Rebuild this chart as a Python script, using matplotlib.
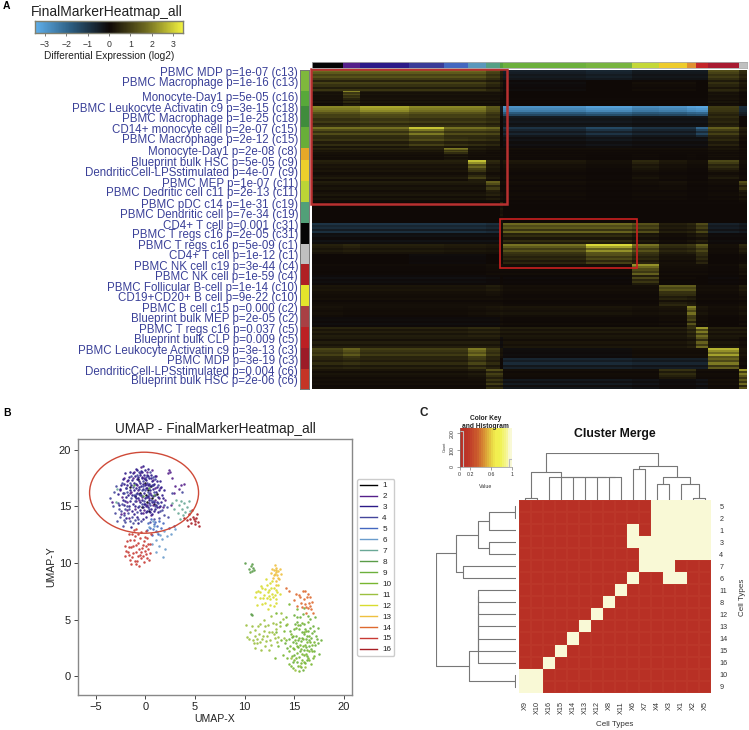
import numpy as np
import matplotlib
matplotlib.use("Agg")
import matplotlib.pyplot as plt
from matplotlib.colors import LinearSegmentedColormap, ListedColormap
from matplotlib.lines import Line2D
from matplotlib.patches import Ellipse, Rectangle

plt.rcParams['font.family'] = ['Liberation Sans', 'DejaVu Sans']
W, H = 749, 730
fig = plt.figure(figsize=(W/100, H/100), dpi=100)

def axpx(x0, y0, x1, y1, **kw):
    return fig.add_axes([x0/W, 1-y1/H, (x1-x0)/W, (y1-y0)/H], **kw)

def ftext(x, y, s, **kw):
    fig.text(x/W, 1-y/H, s, **kw)

# ---------------- Panel A data ----------------
row_labels = ["PBMC MDP p=1e-07 (c13)", "PBMC Macrophage p=1e-16 (c13)", "Monocyte-Day1 p=5e-05 (c16)",
 "PBMC Leukocyte Activatin c9 p=3e-15 (c18)", "PBMC Macrophage p=1e-25 (c18)", "CD14+ monocyte cell p=2e-07 (c15)",
 "PBMC Macrophage p=2e-12 (c15)", "Monocyte-Day1 p=2e-08 (c8)", "Blueprint bulk HSC p=5e-05 (c9)",
 "DendriticCell-LPSstimulated p=4e-07 (c9)", "PBMC MEP p=1e-07 (c11)", "PBMC Dedritic cell c11 p=2e-13 (c11)",
 "PBMC pDC c14 p=1e-31 (c19)", "PBMC Dendritic cell p=7e-34 (c19)", "CD4+ T cell p=0.001 (c31)",
 "PBMC T regs c16 p=2e-05 (c31)", "PBMC T regs c16 p=5e-09 (c1)", "CD4+ T cell p=1e-12 (c1)",
 "PBMC NK cell c19 p=3e-44 (c4)", "PBMC NK cell p=1e-59 (c4)", "PBMC Follicular B-cell p=1e-14 (c10)",
 "CD19+CD20+ B cell p=9e-22 (c10)", "PBMC B cell c15 p=0.000 (c2)", "Blueprint bulk MEP p=2e-05 (c2)",
 "PBMC T regs c16 p=0.037 (c5)", "Blueprint bulk CLP p=0.009 (c5)", "PBMC Leukocyte Activatin c9 p=3e-13 (c3)",
 "PBMC MDP p=3e-19 (c3)", "DendriticCell-LPSstimulated p=0.004 (c6)", "Blueprint bulk HSC p=2e-06 (c6)"]
label_y = [73,83,98,109,119,130,140,152,163,173,184,193,205,215,226,235,246,256,267,277,288,298,309,319,330,340,351,361,372,381]

col_widths = [95,50,148,105,72,52,44,9,248,139,81,82,28,36,93,23]
col_colors = ['#050505','#55208a','#2c1a88','#3a3c98','#4468c0','#5a98bc','#55a085','#55a040','#6cb03c',
              '#78b440','#c4d838','#eecc2c','#e09030','#c42428','#a81a30','#c0c0c0']
half_band_heights = [31,31,22,23,32,32,31,31,18,19,31,32,32,31,31,31,32,31,31,31,31,31,32,31,32,31,31,31,32,31,31,31]
band_heights = [62,45,64,62,37,63,63,62,63,62,62,63,63,62,63,62]
band_colors = ['#7fb83c','#58a83a','#408c3c','#68ae38','#e6a828','#ecd02c','#bcd436','#52a078','#050505',
               '#c0c0c0','#b02024','#e4e42c','#a84044','#bc2024','#9c1c28','#c43426']

block = np.array([
 [1.3,1.3,1.3,1.3,1.3,1.3,.9,.4,-.4,-.5,-.3,-.3,-.3,-.3,.9,.5],
 [.9,.9,.9,.9,.9,.9,.6,.3,-.1,0,.1,.1,.1,0,.6,.3],
 [.3,1.7,.3,.3,.3,.3,.3,.2,0,0,0,0,0,0,.3,.1],
 [.25,.8,.3,.3,.3,.3,.3,.1,.05,.05,.05,.05,.05,.05,.3,.1],
 [1.6,1.6,1.9,1.6,1.6,1.6,1.1,-.3,-2.2,-2.4,-2.1,-2.2,-2.4,-2.5,.7,-.6],
 [1.0,1.0,1.1,1.0,1.0,1.0,.8,0,-.4,-.4,-.3,-.3,-.3,-.3,.6,0],
 [1.2,1.2,1.2,1.9,1.2,1.2,1.1,0,-.6,-.9,-.6,-.6,-.6,-1.3,1.0,.3],
 [.7,.7,.7,1.1,.8,.7,.6,0,-.2,-.3,-.2,-.2,-.2,-.2,.5,.1],
 [.4,.4,.4,.4,1.6,.3,.2,.1,.1,.1,.1,.1,.1,.1,.2,.1],
 [.2,.2,.2,.2,.4,.2,.2,.1,.1,.05,.1,.05,.1,.05,.2,.1],
 [.3,.3,.3,.3,.3,2.0,.4,.1,.2,.1,.4,.2,.1,.1,.8,.1],
 [.3,.3,.3,.3,.3,1.0,.3,.05,.1,.05,.2,.1,.05,.05,.3,.1],
 [.3,.3,.3,.3,.3,.3,1.3,.1,.1,.05,.1,.15,.05,.05,.1,1.0],
 [.3,.3,.3,.3,.3,.3,.5,.2,.1,.05,.1,.1,.05,.05,.1,.3],
 [.02,.02,.02,.02,.02,.02,.02,.5,.05,.03,.03,.03,.03,.03,.03,.03],
 [.02,.02,.02,.02,.02,.02,.02,.4,.03,.02,.02,.02,.02,.02,.02,.02],
 [-.7,-.7,-.7,-.7,-.7,-.7,-.6,.1,1.3,1.3,1.0,.3,.4,.9,-.4,-.3],
 [-.2,-.2,-.2,-.2,-.2,-.2,-.2,0,.6,.6,.3,.1,.2,.4,-.1,-.1],
 [.3,.4,.3,.3,.25,.25,.2,0,1.3,2.2,1.3,.5,.6,1.1,.1,.4],
 [0,0,0,-.1,-.1,-.1,0,0,.7,1.4,.7,.2,.2,.7,0,.1],
 [.05,.05,.05,.05,.05,.05,.1,.1,.1,.1,1.7,.1,.1,.1,.05,.2],
 [-.15,-.15,-.15,-.15,-.15,-.15,-.1,0,-.05,-.05,1.0,.05,.05,0,-.05,.05],
 [.2,.2,.2,.2,.2,.2,.3,.2,.1,.1,.1,1.2,1.2,.1,.1,.3],
 [.1,.1,.1,.1,.1,.1,.1,.1,.05,.05,.05,.4,.3,.05,.05,.1],
 [.15,.1,.1,.1,.1,.15,.2,.25,.2,.2,.15,.2,1.8,.2,.1,.2],
 [-.1,-.1,-.1,-.1,-.1,-.1,-.1,.1,.05,.05,.05,.1,1.2,.1,0,.1],
 [.4,.4,.4,.4,.4,.5,.5,.3,.3,.3,.3,.3,.6,1.9,.3,.3],
 [.3,.3,.3,.3,.3,.3,.3,-.1,.2,.2,.2,.2,.3,1.3,.2,.1],
 [.9,1.3,.8,.8,.8,1.6,.8,.2,-.1,-.1,.1,.1,.1,.1,2.2,.2],
 [.5,.6,.5,.5,.5,.9,.5,0,-.6,-.6,-.5,-.5,-.5,-.5,1.6,.1],
 [.2,.2,.2,.2,.2,.3,1.0,.9,.1,.1,.1,.6,.6,.1,.1,1.9],
 [.1,.1,.1,.1,.1,.1,.7,.6,-.3,-.3,-.2,-.1,-.1,-.2,.1,1.3]])
stripes = np.array([
 1.3,1.1,.8,1.0,.7, .5,1.1,.8,.4,.9, 1.2,.5,.7,.4,.5, .6,.3,.7,.2,.4,
 1.3,1.2,1.1,.8,.6, 1.0,.7,.9,.5,.7, 1.5,1.0,.6,1.0,.5, .8,1.1,.5,.9,.3,
 1.2,1.0,.5,.7,.4, .6,.3,.8,.3,.5, 1.4,1.1,.6,.8,.5, .8,.3,.6,1.0,.3,
 1.2,.9,.4,.7,.3, .6,.9,.3,.7,.2, 1.0,.5,.3,.5,.3, .3,.5,.2,.5,.3,
 1.3,.9,1.1,.6,1.2, .7,1.0,.4,1.0,.5, 1.4,1.1,.7,1.0,.6, .9,.6,.8,.4,.7,
 1.3,1.0,.7,.5,.9, .4,1.1,.5,.8,.3, 1.2,.9,1.1,.6,.5, .8,1.2,.4,.9,1.3,
 1.1,.9,.6,1.0,.5, .7,.9,.4,1.1,.5, 1.2,.6,1.0,.5,.9, 1.0,.5,1.2,.7,1.3,
 1.2,1.0,.8,1.1,.6, 1.0,.7,1.2,.5,.9, 1.2,.5,1.0,.7,.4, 1.1,.6,1.3,.4,1.0])

# ---------------- Panel B data ----------------
c1 = [(-.5,16.2),(.2,15.4),(.6,16.8),(-1,15.9),(.9,15.2),(0,17.1),(-.3,14.9),(1.2,16.1),(.4,14.6),(-1.5,16.7),(.1,16),(.7,15.7),(-.7,17.4),(.3,16.4)]
c2 = [(-2.6,16.4),(-1.8,17.2),(-1.1,18),(-.4,18.5),(.2,18),(.8,17.3),(1.5,16.6),(2,15.6),(1.4,14.9),(.6,14.2),(-.2,14.4),(-1,14.8),(-1.8,15.4),(-2.4,15.8),
      (-1.4,16.3),(-.8,16.9),(-.1,17.5),(.5,16.2),(1,15.6),(.2,15.1),(-.6,15.6),(2.4,18.2),(2.5,18),(2.3,17.9),(3,16.8),(3.4,16.5),(2.6,15.1),(-3.4,15.4),(-.5,17.9),(1.1,17.7),(-1.6,14),(-2.1,14.4),
      (-2.2,17.5),(-1.5,16.2),(-1.2,17.5),(-.9,15.5),(-.7,16.4),(-.3,15.8),(-.1,14.7),(.1,17),(.4,15.7),(.8,15.1),(1,16.6),(1.4,15.7),(1.8,14.9),(-.3,17.6),(.7,18.2),(-1.8,14.7),(-2.5,14.3),(3.6,16.9),(3.9,17),(2.7,17.5),(2.9,16.2)]
c3 = [(-2.2,17),(-1.9,16.6),(-1.6,17.6),(-1.4,16.9),(-1.3,17.3),(-1.1,16.4),(-1,17.7),(-.9,17),(-.8,16.2),(-.7,17.6),(-.6,16.7),(-.5,17.1),(-.4,18.1),(-.4,16),(-.3,17.5),
      (-.2,16.5),(-.1,17.8),(0,16.9),(0,15.7),(.1,17.3),(.2,16.6),(.3,17.7),(.3,15.9),(.4,17),(.5,16.4),(.6,17.5),(.7,15.4),(.8,16.5),(.9,17),(1,16),(1.1,15.1),(1.2,17.2),(1.3,15.8),(1.4,16.4),
      (-1.5,15.5),(-1.2,15.2),(-.9,15.7),(-.7,14.9),(-.5,15.4),(-.2,14.9),(0,15.2),(.2,14.6),(.4,15.3),(.6,14.8),(.9,14.6),(1.2,14.9),(-2,15.5),(-1.7,16),(-2.5,16.9),(-2.1,15.1),
      (-1.1,14.3),(-.4,14.4),(.1,14.1),(-1.9,14),(1.6,15.4),(1.7,16),(-2.8,16.1),(-.2,18.6),(.3,18.3),(-.8,18.2),
      (-2.3,17.4),(-2,17.9),(-1.8,16.9),(-1.7,17.3),(-1.5,16.4),(-1.5,18),(-1.3,16),(-1.2,17.9),(-1.1,17.1),(-1,15.9),(-.9,16.6),(-.9,18.3),(-.8,17.4),(-.7,15.7),(-.6,17.2),(-.6,16.1),(-.5,17.8),(-.4,16.8),(-.3,15.6),(-.3,18),(-.2,17),(-.1,16.2),(-.1,15.2),(0,17.4),(0,18.2),(.1,16.6),(.1,15),(.2,17.8),(.2,15.8),(.3,16.9),(.3,14.9),(.4,17.5),(.4,15.6),(.5,16.8),(.5,14.5),(.6,16),(.6,17.8),(.7,17.2),(.7,14.3),(.8,15.9),(.8,16.9),(.9,15.4),(1,17.7),(1,14.8),(1.1,16.3),(1.2,15.4),(1.2,16.7),(1.3,14.5),(1.5,17.2),(1.5,15),(1.6,16.7),(1.8,15.7),(1.9,16.4),(-1.6,15),(-1.3,14.6),(-1,15),(-.8,14.1),(-.5,14.7),(-.2,13.9),(.1,14.5),(-1.9,15.8),(-2.3,16.2),(-2.6,16.5),(-2.3,15.6),(-2.7,15.1),(-1.4,13.2),(-.7,13.5)]
c4 = [(-3.6,15.7),(-3.2,16.3),(-2.8,15.3),(-2.5,14.6),(-2.6,14.1),(-2.9,13.7),(-2.2,13.8),(-2.3,13.3),(-1.6,14.8),(-1.5,13.7),(-1.2,13.5),(-2,14.8),(-1.2,16.7),(-1.8,16.3),(-.9,16.1),(-.6,16.5),(-.3,16.4),
      (0,16.4),(.2,17.1),(.4,16.1),(.7,16.9),(1,17.4),(-.3,15.2),(.1,15.8),(.5,15.1),(.8,15.5),(1.3,15.3),(-1,15.5),(-1.4,17.7),(-.2,17.2),(.5,18),(-.6,18),(1.7,14.7),(1.4,14),(1.9,14.2),(2.2,14.9),(-.8,14.5),(-3,16.8),(2.7,16.2),(3.7,16.3),(-1.8,15),(.9,13.9),(.5,13.6),
      (-3.3,15),(-3.1,14.4),(-2.7,14.8),(-2.4,15.2),(-2.2,14.2),(-2,13.6),(-1.7,14.4),(-1.3,14.1),(-1,13.8),(-.7,13.9),(-.4,13.7),(-1.9,16.6),(-1.5,17.1),(-1.1,16),(-.8,17.8),(-.5,16),(-.2,16.8),(.1,17.6),(.3,16.3),(.6,15.6),(.8,17.6),(1,15),(1.3,16.9),(1.5,14.6),(1.9,15.1),(2.3,14.1),(2.9,13.3),(2.4,13.1),(-2.4,17.1),(-.1,15.5),(.4,14.8),(.9,16.3),(-.6,15),(-1.4,15.7),(-2.1,16.2)]
c5 = [(.3,13.5),(.6,13.9),(.8,13),(1,13.6),(1.2,13.3),(1.4,13.7),(.9,13.4),(.5,13.1),(1.1,12.8),(1.6,13.1),(1.3,12.6),(.7,12.5),(.2,12.9),(1.8,13.5)]
c6 = [(.9,13.3),(1.2,12.7),(1.5,12.5),(1.7,12.1),(1.1,12),(1.9,12.8),(.7,11.7),(2.2,12.4),(1.4,11.5),(2,11.2),(1.1,11),(2.6,12.6),(3,13),(.8,13.7),(.4,13.2),(1.8,10.5)]
c7 = [(3.1,15.6),(3.4,15.1),(3.7,14.8),(3.9,15.3),(4.2,14.9),(3.3,14.4),(3.8,14.2),(4.4,15.5),(2.9,14.8),(3.6,15.5),(4,14.5),(2.7,15.3),(4.5,14.6),(-3,15.4),(-2.9,16.5),(3.5,13.9)]
c8 = [(10.4,9.5),(10.6,9.7),(10.7,9.3),(10.8,9.6),(10.5,9.2),(10.9,9.4),(10.7,9.9),(10,10),(10.7,5.4),(10.6,5.5),(-.2,15.9),(.4,16.6),(-1.1,16.9),(.9,16)]
c9 = [(14.6,4),(14.9,3),(15.1,4.6),(15.2,3.6),(15.4,2.6),(15.5,4.2),(15.6,5.2),(15.7,3.1),(15.8,3.9),(16,2.3),(16,4.6),(16.2,3.3),(16.3,1.8),(16.4,4),(16.5,2.7),(16.6,5.1),(16.7,3.4),(16.9,4.4),(17,2.2),(17.2,3.6),(17.4,2.9),(15,1.9),
      (15.3,1.3),(15.7,.8),(16.1,1.2),(14.3,2.5),(15,5.4),(16,6),(17.7,3.2),(17.1,5.2),(17.4,4.3),
      (14.8,3.5),(15,4.2),(15.2,2.9),(15.3,4.8),(15.4,3.2),(15.6,4.5),(15.6,2.2),(15.8,3.4),(15.9,5.5),(16,3.7),(16.1,4.2),(16.2,2.6),(16.3,3.6),(16.4,5.3),(16.5,3.2),(16.6,4.3),(16.7,2.4),(16.8,3.8),(17,4),(17.1,2.8),(17.3,3.3),(14.5,3.3),(14.2,4.5),(15.3,5.2),(16.3,1.4),(15.9,.6),(14.9,1.3),(14.1,2.9),(17.5,2)]
c10 = [(14.2,3.2),(14.5,2.2),(14.7,3.7),(14.9,2.5),(15,1.4),(15.1,3.2),(15.3,2.1),(15.5,1.7),(15.5,3.4),(15.7,2.4),(15.8,1.4),(15.9,3.3),(16,1.9),(16.1,2.8),(16.2,4),(16.3,2.3),(16.5,1.4),(16.6,3),(16.8,2.2),(16.9,1.6),(17,3),(14.5,1.1),(14.9,.7),
       (15.5,.5),(15.2,4.3),(15.8,4.7),(16.4,4.8),(14,4),(13.4,2.7),(13,1.6),(13.2,3.9),(14.2,5.2),(13.6,4.8),(13.1,5.6),(15.3,5.9),(14.5,6.4),
       (14.6,2.7),(14.8,1.8),(15,2.4),(15.2,1.6),(15.3,2.7),(15.4,.9),(15.6,2.8),(15.7,1.2),(15.8,2),(15.9,2.7),(16,1.3),(16.2,2),(16.3,3),(16.4,1.6),(16.5,2.2),(16.7,1.1),(16.8,2.8),(17,1.8),(14.9,3.6),(15.4,4.5),(16,3.9),(16.5,3.6),(14.3,1.6),(14.7,.9),(13.7,3.2),(13.9,1.9)]
c11 = [(10.5,3.9),(10.8,3.2),(11,4.1),(11.2,2.9),(11.4,3.7),(11.5,4.6),(11.7,3.3),(11.9,4),(12,2.7),(12.2,3.6),(12.3,4.5),(12.5,3.2),(12.7,3.9),(12.8,4.7),(13,3.4),(13.2,4.2),(13.4,3.5),(13.6,4.4),(11,2.5),(11.6,2.3),(12.4,2.3),(10.2,3.5),(10.1,4.5),(14,3.4),(14.3,4.6),(11.9,5),(12.6,5.3),(13.7,5.6),(15.6,.9),(16.1,.8),(14.7,1.6),(15.1,.6),
       (10.7,4.4),(11,3.6),(11.3,4.4),(11.5,3),(11.8,3.6),(12,4.4),(12.1,3.1),(12.4,3.9),(12.6,2.8),(12.9,3.7),(13.1,4.6),(11.2,3.3),(13.3,3),(13.9,5.1),(10.4,3.3),(10.9,2.9)]
c12 = [(11,7),(11.3,7.5),(11.5,6.9),(11.7,7.8),(11.9,7.2),(12,6.5),(12.2,8.1),(12.3,7.4),(12.5,6.8),(12.6,7.8),(12.8,7),(12.9,6.2),(13.1,7.6),(13.2,6.8),(13.4,8.1),(11.7,6.4),(12.3,5.9),(13.6,7.3),(12.1,8.6),(12.7,8.4),(11.2,6.3),(12.4,7.1),(13,7.2),
       (11.1,7.4),(11.5,7.4),(11.8,6.9),(12,7.7),(12.2,6.9),(12.4,7.6),(12.5,6.3),(12.7,7.3),(12.9,7.8),(13.1,6.5),(13.3,7.4),(11.6,8),(12.5,8.2)]
c13 = [(12.6,9.1),(12.8,8.7),(12.9,9.4),(13,9),(13.1,8.4),(13.2,9.6),(13.3,8.9),(13.4,9.3),(13.5,8.6),(13.7,9),(12.7,9.5),(13,9.8),(13.2,8.1),(13.6,9.5),(12.9,8.9),(13.2,9.2),(13.4,8.7),(13.1,9.4)]
c14 = [(15,6.7),(15.3,6.2),(15.5,7.2),(15.7,6.5),(15.9,7.5),(16,6.8),(16.2,6.1),(16.3,7),(16.5,6.5),(16.7,5.9),(16.8,6.6),(16.9,5.6),(16.1,7.5),(14.5,7.5),(14.2,7.8),(15.2,7.3),(16.6,7),(16.1,6.4),(16.4,6),(15.6,7),(16.6,6.2),(15.8,6.1),(16.4,7.3),(16.2,5.6)]
c15 = [(-2,11.5),(-1.7,11),(-1.5,12),(-1.3,10.5),(-1.2,11.5),(-1,12.4),(-.9,11),(-.8,10.2),(-.7,11.8),(-.5,10.7),(-.4,12.7),(-.3,11.3),(-.1,10.1),(-.1,11.9),(.1,10.8),(.2,12.2),(.3,11.2),(.4,10.3),(.5,11.7),(.6,12.6),(-1.6,12.6),(-2,10.6),(-1.4,9.9),(-.6,9.7),(-.9,13),(-1.1,12.9),(-1.6,11.4),(.1,11.5),(-.4,10.4),
       (-1.8,11.9),(-1.6,10.7),(-1.4,11.4),(-1.2,10.9),(-1.1,12),(-1,10.2),(-.9,11.6),(-.7,10.6),(-.6,11.2),(-.5,12.2),(-.4,11),(-.2,10.6),(-.2,11.6),(0,12.3),(0,11.1),(.2,10.4),(.3,11.7),(.5,10.9),(-1.3,12.6),(-.7,12.6),(-1.9,11.1),(-.9,9.9),(.1,12.8),(-1.5,10.3)]
c16 = [(4.2,13.8),(4.4,14.3),(4.6,13.5),(4.8,14.1),(5,13.4),(5.1,14),(5.3,13.6),(4.7,14.7),(4.3,13.3),(5.4,13.3),(4.9,13.9),(3.9,14),(4.5,13.9),(5,13.7),(5.2,14.3)]
umap_clusters = [c1,c2,c3,c4,c5,c6,c7,c8,c9,c10,c11,c12,c13,c14,c15,c16]
umap_colors = ['#000000','#55208a','#2c1a88','#44469c','#4468c0','#6a9ccc','#6aa896','#5a9c48','#6cb03c','#78b630','#9cc040','#d8dc30','#eec040','#de6a30','#c83a34','#a81e24']
legend_labels = [str(i) for i in range(1, 17)]

# ---------------- Panel C data ----------------
merge_rows = ['5','2','1','3','4','7','6','11','8','12','13','14','15','16','10','9']
merge_cols = ['X9','X10','X16','X15','X14','X13','X12','X8','X11','X6','X7','X4','X3','X1','X2','X5']
merge_grid = ["0000000000011111","0000000000011111","0000000001011111","0000000001111111","0000000000111111",
              "0000000000111000","0000000001001100","0000000010000000","0000000100000000","0000001000000000",
              "0000010000000000","0000100000000000","0001000000000000","0010000000000000","1100000000000000","1100000000000000"]
# trees: (height, child, child); a child is a leaf index or a subtree
top_tree = (140, (83, (4, 0, 1), (68, 2, (68, 3, (68, 4, (68, 5, (68, 6, (68, 7, 8))))))),
                 (103, (93, 9, 10), (68, (48, 11, 12), (48, 13, (4, 14, 15)))))
left_tree = (240, (180, (113, (80, (2, 0, 1), 2), (80, 3, 4)), (160, 5, 6)),
                  (140, (113, (113, (113, (113, (113, (113, 7, 8), 9), 10), 11), 12), 13), (2, 14, 15)))
key_levels = np.array([0,.03,.06,.09,.12,.16,.2,.24,.28,.32,.36,.4,.44,.48,.52,.56,.6,.64,.68,.72,.76,.8,.84,.88,.92,.96,1.])
key_colors = ['#b83025','#b83025','#b83025','#ba3226','#bc3527','#be3a28','#c2422a','#c54b2b','#c9552c','#cc602d','#d0702f','#d48032','#d89034','#dca238',
              '#e0b43c','#e4c440','#e8d646','#eee44a','#f2ee50','#f0f050','#f0f258','#f2f470','#f4f484','#f6f69c','#f8f8cc','#f9f9d6']
hist_edges = [0,.07,.07,.93,.93,1]
hist_counts = [215,215,0,0,45,45]

# ---------------- Panel A ----------------
ftext(3, 6, "A", fontsize=7.5, fontweight='bold', ha='left', va='center')
ftext(31, 12, "FinalMarkerHeatmap_all", fontsize=10, ha='left', va='center', color='#222222')
heat_cmap = LinearSegmentedColormap.from_list('heat', ['#60b0ec', '#2a5a7c', '#0e0806', '#6e6a20', '#f4f440'])
cb = axpx(35, 21, 183, 33)
cb_vals = np.linspace(-3.47, 3.47, 256)
cb.pcolormesh(cb_vals, [0, 1], cb_vals[:-1][None, :], cmap=heat_cmap, vmin=-3.47, vmax=3.47)
cb.set_yticks([])
cb.set_xticks([-3,-2,-1,0,1,2,3], ['\u22123','\u22122','\u22121','0','1','2','3'])
cb.tick_params(axis='x', labelsize=6.3, length=2, width=.5, pad=3.2, color='#444444', labelcolor='#333333')
for s in cb.spines.values():
    s.set_color('#808070'); s.set_linewidth(1)
ftext(109, 56, "Differential Expression (log2)", fontsize=7.3, ha='center', va='center', color='#222222')

for y, t in zip(label_y, row_labels):
    ftext(298, y, t, fontsize=8.3, ha='right', va='center', color='#3a4098')

hm = axpx(311.7, 70, 746.7, 389.3)
col_edges = 35 + np.concatenate([[0], np.cumsum(col_widths)])
half_edges = 45 + np.concatenate([[0], np.cumsum(half_band_heights)])
row_edges = np.concatenate([np.linspace(half_edges[i], half_edges[i+1], 5, endpoint=False) for i in range(32)] + [[half_edges[-1]]])
mat = np.repeat(block, 5, axis=0) * stripes[:, None]
hm.pcolormesh(col_edges, row_edges, mat, cmap=heat_cmap, vmin=-3.47, vmax=3.47, rasterized=True)
hm.set_xlim(35, 1340); hm.set_ylim(1003, 45); hm.axis('off')
hm.add_patch(Rectangle((33, 42), 588, 405, fill=False, ec='#b83030', lw=1.8, clip_on=False))
hm.add_patch(Rectangle((600, 493), 410, 147, fill=False, ec='#cc2020', lw=1.2, clip_on=False))

top = axpx(311.7, 61.7, 746.7, 68)
top.barh(0, col_widths, left=col_edges[:-1], height=1, color=col_colors)
top.set_xlim(35, 1340); top.set_ylim(-.5, .5); top.set_xticks([]); top.set_yticks([])
for s in top.spines.values():
    s.set_color('#aaaaaa'); s.set_linewidth(.6)

side = axpx(299.5, 70, 308.5, 389.3)
side.bar(0, band_heights, bottom=45 + np.concatenate([[0], np.cumsum(band_heights)[:-1]]), width=1, color=band_colors)
side.set_xlim(-.5, .5); side.set_ylim(1003, 45); side.set_xticks([]); side.set_yticks([])
for s in side.spines.values():
    s.set_color('#777777'); s.set_linewidth(.7)

# ---------------- Panel B ----------------
ftext(3, 413, "B", fontsize=7.5, fontweight='bold', ha='left', va='center')
ax = axpx(78, 439, 352, 695)
for pts, col in zip(umap_clusters, umap_colors):
    arr = np.array(pts)
    ax.scatter(arr[:, 0], arr[:, 1], s=3.2, color=col, linewidths=0, alpha=.9)
ax.add_patch(Ellipse((-.13, 16.2), 10.97, 7.15, fill=False, ec='#cf4a38', lw=1))
ax.set_xlim(-6.78, 20.8); ax.set_ylim(-1.65, 20.94)
ax.set_xticks([-5,0,5,10,15,20], ['\u22125','0','5','10','15','20'])
ax.set_yticks([0,5,10,15,20])
ax.tick_params(labelsize=8, length=3, width=.7, pad=2, color='#444444', labelcolor='#222222')
ax.set_title("UMAP - FinalMarkerHeatmap_all", fontsize=9.8, pad=4, color='#222222')
ax.set_xlabel("UMAP-X", fontsize=7.6, labelpad=1.5, color='#222222')
ax.set_ylabel("UMAP-Y", fontsize=7.6, labelpad=1.5, color='#222222')
for s in ax.spines.values():
    s.set_color('#888888'); s.set_linewidth(1)
handles = [Line2D([0], [0], color=c, lw=1) for c in umap_colors]
leg = ax.legend(handles, legend_labels, loc='upper left', bbox_to_anchor=(357/W, 1-479/H), bbox_transform=fig.transFigure,
                fontsize=5.9, labelspacing=.39, handlelength=2.07, handletextpad=.69, borderpad=.33, borderaxespad=0,
                frameon=True, fancybox=True, edgecolor='#cccccc', framealpha=1)
for t in leg.get_texts():
    t.set_color('#222222')

# ---------------- Panel C ----------------
ftext(420, 413, "C", fontsize=8.5, fontweight='bold', ha='left', va='center', color='#222222')
grid = np.array([[int(ch) for ch in r] for r in merge_grid])
cm = ListedColormap(['#b83025', '#f9f9d6'])
hc = axpx(519.3, 500, 711, 692.7)
hc.pcolormesh(np.arange(17), np.arange(17), np.zeros_like(grid), cmap=cm, vmin=0, vmax=1, edgecolors='#bb3629', linewidth=.2)
hc.pcolormesh(np.arange(17), np.arange(17), np.ma.masked_where(grid == 0, grid), cmap=cm, vmin=0, vmax=1, linewidth=0)
hc.set_xlim(0, 16); hc.set_ylim(16, 0)
hc.set_xticks(np.arange(16)+.5, merge_cols, rotation=90, fontsize=5.2, color='#333333')
hc.yaxis.tick_right()
hc.set_yticks(np.arange(16)+.5, merge_rows, fontsize=5.2, color='#333333')
hc.tick_params(length=0, pad=6)
for s in hc.spines.values():
    s.set_visible(False)
ftext(615, 724, "Cell Types", fontsize=5.8, ha='center', va='center', color='#333333')
ftext(743, 597, "Cell Types", fontsize=5.8, ha='center', va='center', rotation=90, color='#333333')
ftext(615, 434, "Cluster Merge", fontsize=8.8, fontweight='bold', ha='center', va='center', color='#111111')

def draw_tree(axis, node, horizontal):
    if not isinstance(node, tuple):
        return node + .5, 0
    h, a, b = node
    pa, ha = draw_tree(axis, a, horizontal)
    pb, hb = draw_tree(axis, b, horizontal)
    xs, ys = [pa, pa, pb, pb], [ha, h, h, hb]
    if horizontal:
        axis.plot(ys, xs, color='#777777', lw=.8, solid_capstyle='butt')
    else:
        axis.plot(xs, ys, color='#777777', lw=.8, solid_capstyle='butt')
    return (pa + pb) / 2, h

dt = axpx(519.3, 453.3, 711, 499.5)
draw_tree(dt, top_tree, False)
dt.set_xlim(0, 16); dt.set_ylim(0, 140); dt.axis('off')
dl = axpx(436, 500, 515.5, 692.7)
draw_tree(dl, left_tree, True)
dl.set_xlim(240, 0); dl.set_ylim(16, 0); dl.axis('off')

key = axpx(459.7, 428, 512.3, 467)
key.pcolormesh(key_levels, [0, 230], np.arange(len(key_colors))[None, :], cmap=ListedColormap(key_colors))
key.plot(hist_edges, hist_counts, color='#bbbbbb', lw=.8)
key.set_xlim(0, 1); key.set_ylim(0, 230)
key.set_xticks([0,.2,.6,1], ['0','0.2','0.6','1'])
key.set_yticks([0,100,200], ['0','100','200'])
key.tick_params(labelsize=3.8, length=2, width=.4, pad=1.5, color='#555555', labelcolor='#333333')
for t in key.get_yticklabels():
    t.set_rotation(90); t.set_va('center')
for s in ['top', 'right']:
    key.spines[s].set_visible(False)
for s in ['left', 'bottom']:
    key.spines[s].set_linewidth(.4); key.spines[s].set_color('#777777')
ftext(485.5, 418, "Color Key", fontsize=4.8, fontweight='bold', ha='center', va='center', color='#222222')
ftext(485.5, 426, "and Histogram", fontsize=4.8, fontweight='bold', ha='center', va='center', color='#222222')
ftext(445, 447, "Count", fontsize=2.8, rotation=90, ha='center', va='center', color='#333333')
ftext(486, 486, "Value", fontsize=3.8, ha='center', va='center', color='#333333')

fig.savefig("out.png", dpi=100)
